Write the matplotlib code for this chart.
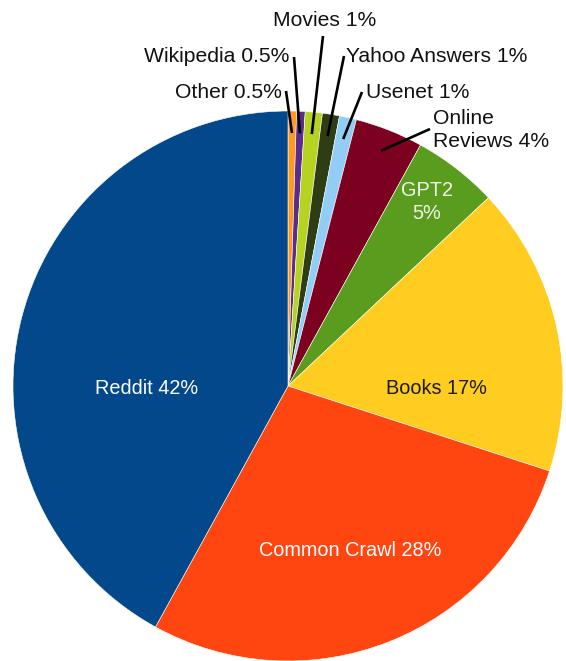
import numpy as np
import matplotlib
matplotlib.use("Agg")
import matplotlib.pyplot as plt

plt.rcParams["font.family"] = ["Liberation Sans", "DejaVu Sans"]

# Dataset composition, clockwise from 12 o'clock
sources = ["Other", "Wikipedia", "Movies", "Yahoo Answers", "Usenet",
           "Online\nReviews", "GPT2", "Books", "Common Crawl", "Reddit"]
shares = [0.5, 0.5, 1, 1, 1, 4, 5, 17, 28, 42]
share_text = ["0.5%", "0.5%", "1%", "1%", "1%", "4%", "5%", "17%", "28%", "42%"]
colors = ["#FF9A1E", "#5B2C8A", "#B5D320", "#2F3D14", "#92CDF5",
          "#7C0020", "#5A9C1E", "#FFCD1F", "#FF4510", "#03488A"]

W, H = 566, 661
cx, cy, R = 288, 386, 275

fig = plt.figure(figsize=(W / 100, H / 100), dpi=100)
ax = fig.add_axes([0, 0, 1, 1])

wedges, _ = ax.pie(shares, colors=colors, startangle=90, counterclock=False,
                   radius=R, center=(0, 0),
                   wedgeprops=dict(edgecolor="white", linewidth=0.4))


def px(x, y):
    """Convert image pixel coordinates to data coordinates."""
    return x - cx, cy - y


fs_in = 14.3
fs_out = 15.2

# Labels inside the large slices: (index, pixel position, colour)
inside = [(9, (147, 389), "white"), (8, (350, 551), "white"),
          (7, (436, 388), "#1a1a1a"), (6, (427, 202), "#f2f7ea")]
for i, pos, col in inside:
    name = sources[i]
    label = f"{name}\n{share_text[i]}" if name == "GPT2" else f"{name} {share_text[i]}"
    ax.text(*px(*pos), label, ha="center", va="center", fontsize=fs_in,
            color=col, linespacing=1.3)

# Labels outside the small slices, with leader lines: (index, text pos, anchor, line start)
outside = [
    (0, (282, 93), "right", (286, 91)),
    (1, (289, 57), "right", (294, 57)),
    (2, (325, 20), "center", (323, 36)),
    (3, (346, 57), "left", (344, 56)),
    (4, (366, 93), "left", (362, 92)),
    (5, (433, 130), "left", (430, 129)),
]
for i, pos, ha, start in outside:
    w = wedges[i]
    mid = np.deg2rad((w.theta1 + w.theta2) / 2)
    tip = (0.92 * R * np.cos(mid), 0.92 * R * np.sin(mid))
    ax.plot([px(*start)[0], tip[0]], [px(*start)[1], tip[1]],
            color="black", lw=1.9, solid_capstyle="butt")
    ax.text(*px(*pos), f"{sources[i]} {share_text[i]}", ha=ha, va="center",
            fontsize=fs_out, color="#111111", linespacing=1.25)

ax.set_aspect("equal")
ax.set_xlim(-cx, W - cx)
ax.set_ylim(cy - H, cy)
ax.axis("off")

fig.savefig("out.png", dpi=100, facecolor="white")
